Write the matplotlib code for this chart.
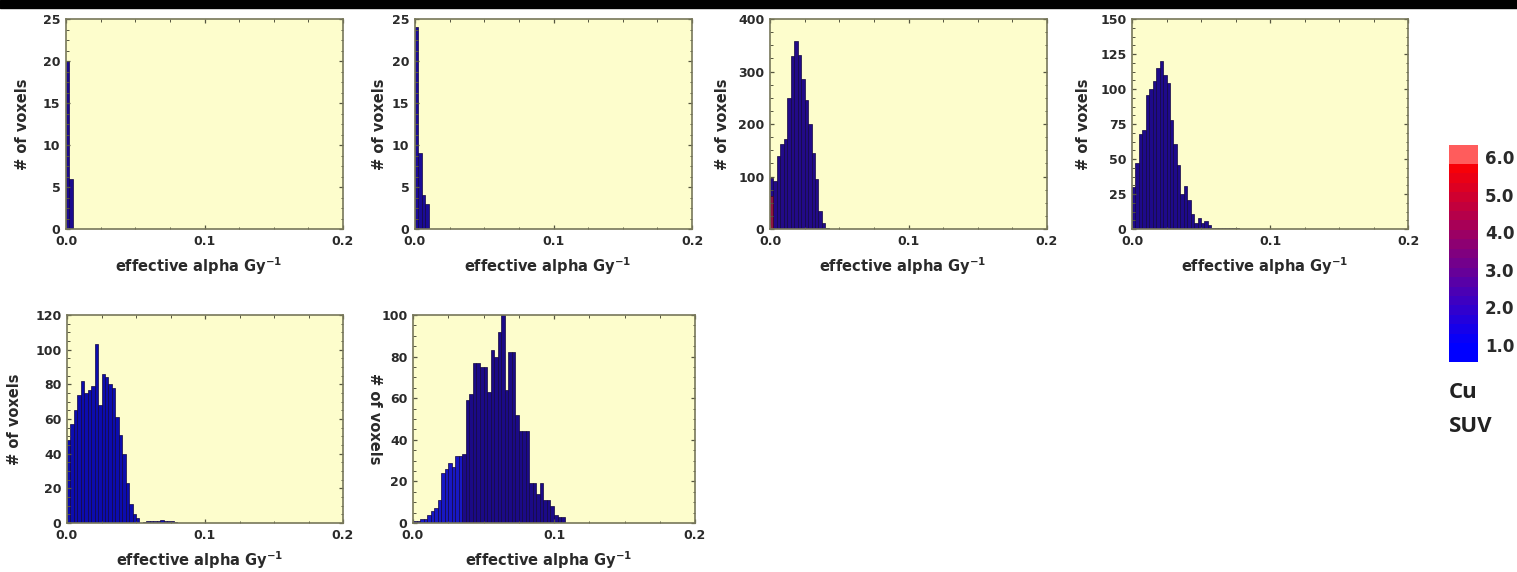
"""
Effective alpha histograms (voxel counts) coloured by Cu SUV
"""

import matplotlib
matplotlib.use('Agg')
import matplotlib.pyplot as plt
import numpy as np
from matplotlib.colors import LinearSegmentedColormap, Normalize
from matplotlib.ticker import MultipleLocator, FormatStrFormatter
import matplotlib.patches as patches

# bin width of every histogram (effective alpha, Gy^-1)
bin_width = 0.0025

# voxel counts per bin, starting at alpha = 0
counts_1 = [20, 6]
counts_2 = [24, 9, 4, 3]
counts_3 = [98, 92, 140, 162, 172, 250, 330, 358, 332, 285, 245, 200, 145, 95, 35, 12, 2]
red_3 = [62]  # high-SUV part of the first bin of panel 3
counts_4 = [30, 47, 68, 71, 96, 100, 106, 115, 120, 110, 104, 78, 61, 46, 25, 31,
            21, 11, 4, 8, 4, 6, 3, 1, 1, 1, 1, 1, 1, 1, 1]
counts_5 = [48, 57, 65, 74, 82, 75, 77, 79, 103, 68, 86, 84, 80, 78, 61, 51, 40,
            23, 11, 5, 3, 0, 0.5, 1, 1, 1, 1, 2, 1, 1, 1, 0.5]
counts_6 = [1, 1, 2, 2, 4, 6, 7, 11, 24, 26, 29, 27, 32, 32, 33, 59, 62, 77, 77,
            75, 75, 63, 83, 80, 92, 100, 64, 82, 82, 52, 44, 44, 44, 19, 19, 14,
            19, 11, 11, 8, 4, 3, 3]

all_counts = [counts_1, counts_2, counts_3, counts_4, counts_5, counts_6]
y_max = [25, 25, 400, 150, 120, 100]
y_step = [5, 5, 100, 25, 20, 20]
x_ticks = [0.0, 0.1, 0.2]
suv_ticks = [1.0, 2.0, 3.0, 4.0, 5.0, 6.0]

W, H = 1517, 572
# axes boxes in pixels: left, top, right, bottom
boxes = [(66, 19, 343, 229), (415, 19, 692, 229), (770, 19, 1047, 229),
         (1132, 19, 1408, 229), (67, 315, 343, 523), (413, 315, 695, 523)]
ylabel_off = [36, 28, 40, 41, 45, 39]
bar_colors = ['#1c0b8e', '#1a0b96', '#220a88', '#1e0a8a', '#0c0cae', '#1b0a86']

suv_cmap = LinearSegmentedColormap.from_list('suv', ['#0000ff', '#ff0000'])
suv_cmap = suv_cmap.with_extremes(over='#ff5c5c', under='#0000ff')

font = 'DejaVu Sans'
txt_col = '#2a2a2a'

fig = plt.figure(figsize=(W / 100, H / 100), dpi=100)
fig.patch.set_facecolor('white')
# black strip along the top edge of the picture
fig.patches.append(patches.Rectangle((0, 1 - 8 / H), 1, 8 / H, transform=fig.transFigure,
                                     color='black', zorder=10))

for i, counts in enumerate(all_counts):
    l, t, r, b = boxes[i]
    ax = fig.add_axes([l / W, 1 - b / H, (r - l) / W, (b - t) / H])
    ax.set_facecolor('#fdfdcc')
    edges = np.arange(len(counts)) * bin_width
    colors = [bar_colors[i]] * len(counts)
    if i == 5:
        # low-alpha tail of the last panel is brighter blue
        colors = ['#1818c4' if e < 0.035 else bar_colors[i] for e in edges]
    ax.bar(edges, counts, width=bin_width, align='edge', color=colors,
           edgecolor='#120640', linewidth=0.5)
    if i == 2:
        ax.bar(edges[:len(red_3)], red_3, width=bin_width, align='edge',
               color='#8e1540', edgecolor='#3a0820', linewidth=0.5)

    ax.set_xlim(0, 0.2)
    ax.set_ylim(0, y_max[i])
    ax.set_xticks(x_ticks)
    ax.xaxis.set_major_formatter(FormatStrFormatter('%.1f'))
    ax.xaxis.set_minor_locator(MultipleLocator(0.025))
    ax.yaxis.set_major_locator(MultipleLocator(y_step[i]))
    ax.yaxis.set_minor_locator(MultipleLocator(y_step[i] / 4))
    ax.tick_params(which='both', direction='in', top=True, right=True,
                   color='#55553f', labelcolor=txt_col)
    ax.tick_params(which='major', length=3, width=0.9, labelsize=9, pad=4)
    ax.tick_params(which='minor', length=1.8, width=0.7)
    for lab in ax.get_xticklabels() + ax.get_yticklabels():
        lab.set_fontweight('bold')
        lab.set_family(font)
    for sp in ax.spines.values():
        sp.set_color('#77775a')
        sp.set_linewidth(1.2)

    ax.set_xlabel('effective alpha Gy$^{\\mathbf{-1}}$', fontsize=10.5,
                  fontweight='bold', family=font, color=txt_col)
    ax.xaxis.set_label_coords(0.48, -26 / (b - t))
    if i == 5:
        # this panel's label is printed the other way round
        ax.set_ylabel('# of voxels', fontsize=10.5, fontweight='bold', family=font,
                      color=txt_col, rotation=270, va='center')
        ax.yaxis.set_label_coords(-ylabel_off[i] / (r - l), 0.5)
    else:
        ax.set_ylabel('# of voxels', fontsize=10.5, fontweight='bold', family=font,
                      color=txt_col)
        ax.yaxis.set_label_coords(-ylabel_off[i] / (r - l), 0.5)

# SUV colour scale
cax = fig.add_axes([1449 / W, 1 - 362 / H, 29 / W, 217 / H])
lev = np.linspace(0.55, 6.32, 24)
cax.pcolormesh([0, 1], lev, ((lev[:-1] + lev[1:]) / 2)[:, None], cmap=suv_cmap,
               norm=Normalize(1.0, 5.85), shading='flat')
cax.set_xlim(0, 1)
cax.set_ylim(lev[0], lev[-1])
cax.set_xticks([])
cax.yaxis.tick_right()
cax.set_yticks(suv_ticks)
cax.set_yticklabels(['%.1f' % v for v in suv_ticks], fontsize=12, fontweight='bold',
                    family=font, color=txt_col)
cax.tick_params(axis='y', length=0, pad=5)
for sp in cax.spines.values():
    sp.set_visible(False)

fig.text(1449 / W, 1 - 392 / H, 'Cu', fontsize=16, fontweight='bold', family='Open Sans',
         color='#222222', ha='left', va='center')
fig.text(1449 / W, 1 - 426 / H, 'SUV', fontsize=16, fontweight='bold', family='Open Sans',
         color='#222222', ha='left', va='center')

plt.savefig('out.png', dpi=100)
